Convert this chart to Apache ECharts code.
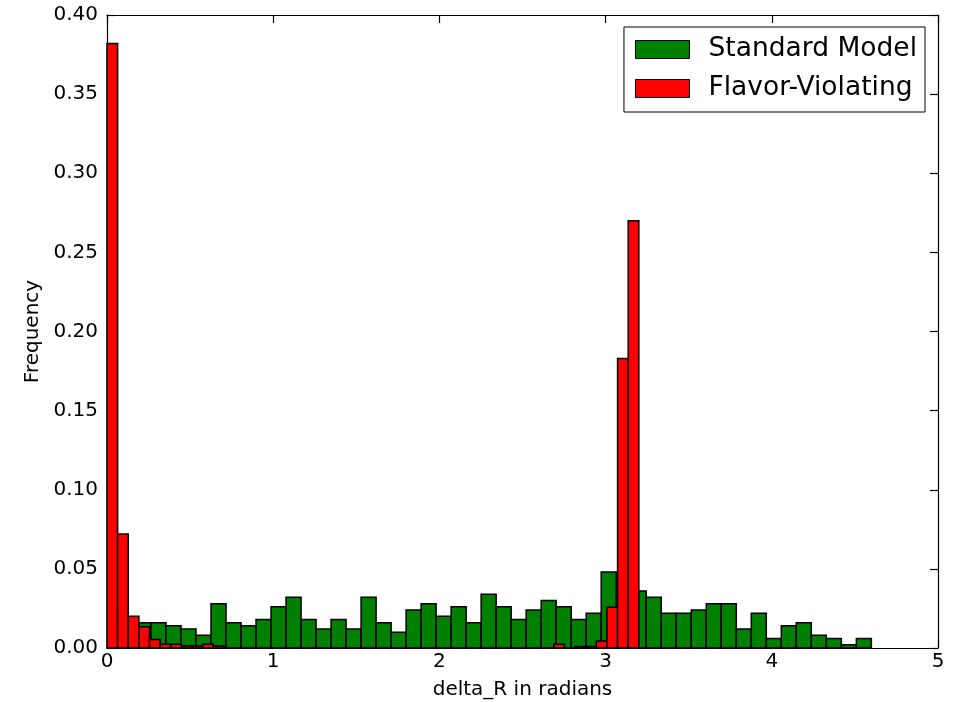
<!DOCTYPE html>
<html>
<head>
<meta charset="utf-8">
<script src="https://cdn.jsdelivr.net/npm/echarts@6/dist/echarts.min.js"></script>
<style>
html,body{margin:0;padding:0;background:#fff;}
#chart{width:958px;height:702px;}
</style>
</head>
<body>
<div id="chart"></div>
<script>
// Standard Model histogram: bins start at greenStart, each greenWidth wide
const greenStart = 0.084;
const greenWidth = 0.0903;
const greenValues = [
  0.012, 0.016, 0.016, 0.014, 0.012, 0.008, 0.028, 0.016, 0.014, 0.018,
  0.026, 0.032, 0.018, 0.012, 0.018, 0.012, 0.032, 0.016, 0.010, 0.024,
  0.028, 0.020, 0.026, 0.016, 0.034, 0.026, 0.018, 0.024, 0.030, 0.026,
  0.018, 0.022, 0.048, 0.026, 0.036, 0.032, 0.022, 0.022, 0.024, 0.028,
  0.028, 0.012, 0.022, 0.006, 0.014, 0.016, 0.008, 0.006, 0.002, 0.006
];
// Flavor-Violating histogram
const redStart = 0.0;
const redWidth = 0.064;
const redValues = [
  0.382, 0.072, 0.020, 0.0135, 0.0053, 0.0023, 0.0023, 0.0013, 0.0013, 0.0023,
  0.0013, 0, 0, 0, 0, 0, 0, 0, 0, 0,
  0, 0, 0, 0, 0, 0, 0, 0, 0, 0,
  0, 0, 0, 0, 0, 0, 0, 0, 0, 0,
  0, 0, 0.0023, 0, 0.001, 0.001, 0.0044, 0.0257, 0.183, 0.270
];
const xTicks = [0, 1, 2, 3, 4, 5];
const yTicks = [0, 0.05, 0.10, 0.15, 0.20, 0.25, 0.30, 0.35, 0.40];
const seriesNames = ['Standard Model', 'Flavor-Violating'];
const xLabel = 'delta_R in radians';
const yLabel = 'Frequency';

function binData(start, width, values) {
  return values.map((v, i) => [start + i * width, start + (i + 1) * width, v]);
}

const FONT = 'DejaVu Sans';

function renderBar(color) {
  return function (params, api) {
    const top = api.coord([api.value(0), api.value(2)]);
    const bot = api.coord([api.value(1), 0]);
    if (api.value(2) <= 0) return null;
    return {
      type: 'rect',
      shape: { x: top[0], y: top[1], width: bot[0] - top[0], height: bot[1] - top[1] },
      style: { fill: color, stroke: '#000', lineWidth: 1.5 }
    };
  };
}

const axisCommon = {
  axisLine: { show: true, onZero: false, lineStyle: { color: '#000', width: 1.2 } },
  axisTick: { show: true, inside: true, length: 8, lineStyle: { color: '#000', width: 1.2 } },
  splitLine: { show: false },
  minorTick: { show: false }
};

const chart = echarts.init(document.getElementById('chart'), null, { renderer: 'canvas' });
chart.setOption({
  backgroundColor: '#fff',
  animation: false,
  grid: { left: 107, right: 20, top: 15, bottom: 54, containLabel: false, outerBoundsMode: 'none' },
  legend: {
    orient: 'vertical',
    right: 33,
    top: 27,
    padding: [9, 8, 10, 11],
    itemWidth: 54,
    itemHeight: 18,
    itemGap: 12,
    borderColor: '#000',
    borderWidth: 1,
    borderRadius: 0,
    backgroundColor: '#fff',
    icon: 'rect',
    itemStyle: { borderColor: '#000', borderWidth: 1 },
    textStyle: { fontFamily: FONT, fontSize: 26.5, color: '#000', padding: [0, 0, 0, 14] },
    data: seriesNames
  },
  xAxis: [
    Object.assign({}, axisCommon, {
      type: 'value', position: 'bottom', min: xTicks[0], max: xTicks[xTicks.length - 1], interval: 1,
      name: xLabel, nameLocation: 'middle', nameGap: 32,
      nameTextStyle: { fontFamily: FONT, fontSize: 20, color: '#000' },
      axisLabel: { fontFamily: FONT, fontSize: 20, color: '#000', margin: 4 }
    }),
    Object.assign({}, axisCommon, {
      type: 'value', position: 'top', min: xTicks[0], max: xTicks[xTicks.length - 1], interval: 1,
      axisLabel: { show: false }
    })
  ],
  yAxis: [
    Object.assign({}, axisCommon, {
      type: 'value', position: 'left', min: yTicks[0], max: yTicks[yTicks.length - 1], interval: 0.05,
      name: yLabel, nameLocation: 'middle', nameGap: 64, nameRotate: 90,
      nameTextStyle: { fontFamily: FONT, fontSize: 20, color: '#000' },
      axisLabel: { fontFamily: FONT, fontSize: 20, color: '#000', margin: 9, formatter: v => v.toFixed(2) }
    }),
    Object.assign({}, axisCommon, {
      type: 'value', position: 'right', min: yTicks[0], max: yTicks[yTicks.length - 1], interval: 0.05,
      axisLabel: { show: false }
    })
  ],
  series: [
    {
      name: seriesNames[0], type: 'custom', xAxisIndex: 0, yAxisIndex: 0,
      itemStyle: { color: '#008000', borderColor: '#000', borderWidth: 1 },
      encode: { x: [0, 1], y: 2 },
      renderItem: renderBar('#008000'),
      data: binData(greenStart, greenWidth, greenValues)
    },
    {
      name: seriesNames[1], type: 'custom', xAxisIndex: 0, yAxisIndex: 0,
      itemStyle: { color: '#ff0000', borderColor: '#000', borderWidth: 1 },
      encode: { x: [0, 1], y: 2 },
      renderItem: renderBar('#ff0000'),
      data: binData(redStart, redWidth, redValues)
    }
  ]
});
</script>
</body>
</html>
